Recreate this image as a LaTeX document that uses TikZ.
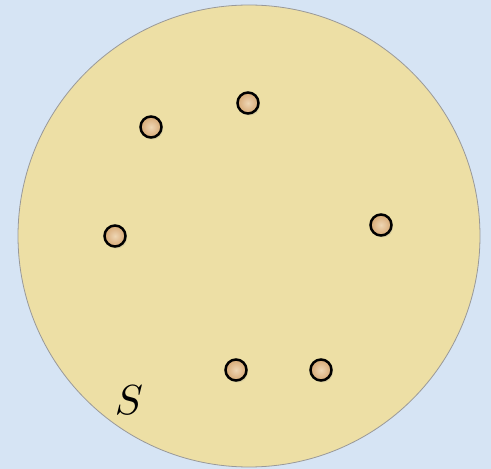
\documentclass[tikz,border=0pt]{standalone}
\usetikzlibrary{shadows}
\definecolor{bgblue}{RGB}{214,228,244}
\definecolor{disk}{RGB}{237,223,165}
\definecolor{peachin}{RGB}{238,214,180}
\definecolor{peachout}{RGB}{214,168,116}
\tikzset{
  dot/.style={circle, minimum size=21pt, inner sep=0pt, draw=black, line width=2.5pt,
    inner color=peachin, outer color=peachout,
    drop shadow={shadow xshift=1.5pt, shadow yshift=-2pt, opacity=0.2}},
  region/.style={circle, draw=gray!80, line width=0.8pt, fill=disk, minimum size=462pt, inner sep=0pt}
}
\begin{document}
\begin{tikzpicture}[x=1pt,y=1pt]
  \fill[bgblue] (0,0) rectangle (491,469);
  \useasboundingbox (0,0) rectangle (491,469);
  \node[region] (S) at (249,233) {};
  \node[dot] (p1) at (248,366) {};
  \node[dot] (p2) at (151,342) {};
  \node[dot] (p3) at (115,233) {};
  \node[dot] (p4) at (381,244) {};
  \node[dot] (p5) at (236,99) {};
  \node[dot] (p6) at (321,99) {};
  \node (lab) at (129,69) {\scalebox{4.2}{$S$}};
\end{tikzpicture}
\end{document}
